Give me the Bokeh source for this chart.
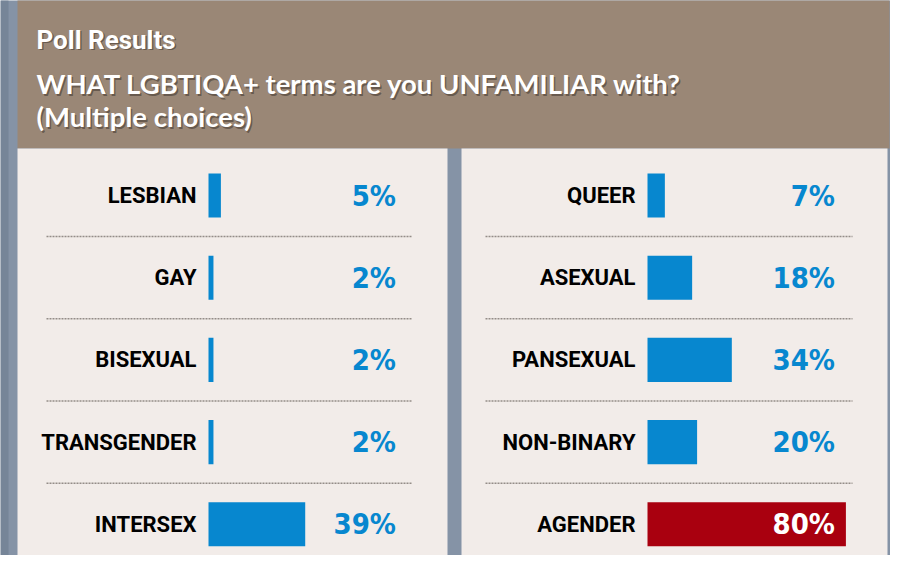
from bokeh.plotting import figure
from bokeh.models import Range1d, ColumnDataSource
from bokeh.core.properties import value
from bokeh.embed import file_html
from bokeh.resources import INLINE

# ---- data ----
left_terms = ["LESBIAN", "GAY", "BISEXUAL", "TRANSGENDER", "INTERSEX"]
left_values = [5, 2, 2, 2, 39]
right_terms = ["QUEER", "ASEXUAL", "PANSEXUAL", "NON-BINARY", "AGENDER"]
right_values = [7, 18, 34, 20, 80]
title_text = "Poll Results"
subtitle_lines = ["WHAT LGBTIQA+ terms are you UNFAMILIAR with?", "(Multiple choices)"]

# ---- style ----
W, H = 890, 555
BG = "#8593a6"
HEADER = "#9a8776"
PANEL = "#f2ece9"
BLUE = "#0787cf"
RED = "#a9000f"
LABEL_FONT = "Roboto"
PCT_FONT = "DejaVu Sans Condensed"
HEAD_FONT = "Lato"

ROW0 = 195.0     # pixel centre of first row
ROWSTEP = 82.2   # pixel distance between rows
PXPCT = 2.48     # pixels per percent
LEFT0 = 208.0    # pixel where left bars start
RIGHT0 = 647.0   # pixel where right bars start
VALUE_X = 75.6   # percent position of right edge of value labels

p = figure(width=W, height=H, x_range=Range1d(0, W), y_range=Range1d(H, 0),
           toolbar_location=None, output_backend="svg", min_border=0,
           x_axis_location=None, y_axis_location=None,
           background_fill_color=BG, border_fill_color=BG, outline_line_color=None)
p.xgrid.visible = False
p.ygrid.visible = False

p.extra_y_ranges = {"rows": Range1d(start=(H - ROW0) / ROWSTEP, end=-ROW0 / ROWSTEP)}
p.extra_x_ranges = {
    "L": Range1d(start=-LEFT0 / PXPCT, end=(W - LEFT0) / PXPCT),
    "R": Range1d(start=-RIGHT0 / PXPCT, end=(W - RIGHT0) / PXPCT),
}

# ---- decorations (panels) ----
p.quad(left=[0], right=[8], top=[-10], bottom=[H + 10], fill_color="#6d7b90",
       line_color=None, fill_alpha=0.6)
p.quad(left=[17], right=[889], top=[-10], bottom=[148], fill_color=HEADER, line_color=None)
p.quad(left=[17, 461], right=[447, 887], top=[148, 148], bottom=[566, 568],
       fill_color=PANEL, line_color=None)

# header texts with a soft shadow
for dx, dy, col, alpha in [(1.5, 1.5, "#3d342b", 0.55), (0, 0, "white", 1.0)]:
    p.text(x=[36 + dx], y=[39 + dy], text=[title_text], text_color=col, text_alpha=alpha,
           text_font=value(LABEL_FONT), text_font_style="bold", text_font_size="26px",
           text_baseline="middle", text_align="left")
    p.text(x=[36 + dx, 36 + dx], y=[83 + dy, 116 + dy], text=subtitle_lines,
           text_color=col, text_alpha=alpha,
           text_font=value(HEAD_FONT), text_font_style="bold", text_font_size="27.5px",
           text_baseline="middle", text_align="left")

# ---- panels ----
def panel(terms, values, xr, sep_x0, sep_x1):
    n = len(terms)
    rows = list(range(n))
    vmax = max(values)
    bar_cols = [RED if v == vmax and vmax > 50 else BLUE for v in values]
    txt_cols = ["white" if c == RED else BLUE for c in bar_cols]
    src = ColumnDataSource(dict(row=rows, val=values, term=terms,
                                lbl=[f"{v}%" for v in values],
                                bc=bar_cols, tc=txt_cols,
                                vx=[VALUE_X] * n))
    mids = [r + 0.5 for r in rows[:-1]]
    p.segment(x0=[sep_x0] * len(mids), x1=[sep_x1] * len(mids), y0=mids, y1=mids,
              y_range_name="rows", line_color="#948d88", line_width=1.5,
              line_dash="2 1")
    p.hbar(y="row", left=0, right="val", height=0.537, source=src,
           fill_color="bc", line_color=None, x_range_name=xr, y_range_name="rows")
    p.text(x=0, y="row", text="term", source=src, x_offset=-12,
           x_range_name=xr, y_range_name="rows", text_align="right",
           text_baseline="middle", text_color="black",
           text_font=value(LABEL_FONT), text_font_style="bold", text_font_size="22px")
    p.text(x="vx", y="row", text="lbl", source=src,
           x_range_name=xr, y_range_name="rows", text_align="right",
           text_baseline="middle", text_color="tc",
           text_font=value(PCT_FONT), text_font_style="bold", text_font_size="29px")

panel(left_terms, left_values, "L", 46, 411)
panel(right_terms, right_values, "R", 485, 852)

open("out.html", "w").write(file_html(p, INLINE))
